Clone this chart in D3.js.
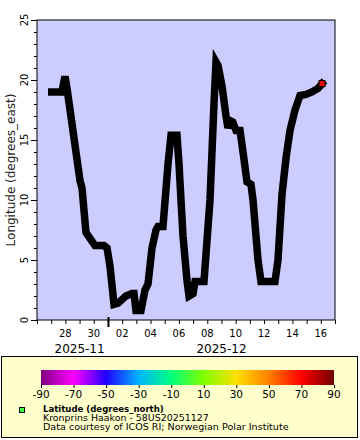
<!DOCTYPE html>
<html><head><meta charset="utf-8">
<script src="https://cdn.jsdelivr.net/npm/d3@7/dist/d3.min.js"></script>
<style>body{margin:0;background:#fff}svg{display:block}text{font-family:"DejaVu Sans",sans-serif}</style>
</head><body>
<script>
const times = ["2025-11-27T01:00","2025-11-27T18:00","2025-11-27T23:20","2025-11-28T02:45","2025-11-29T00:45","2025-11-29T04:05","2025-11-29T10:50","2025-11-29T17:40","2025-11-30T02:05","2025-11-30T17:20","2025-11-30T22:25","2025-12-01T03:25","2025-12-01T10:15","2025-12-01T17:00","2025-12-02T06:30","2025-12-02T16:40","2025-12-02T20:05","2025-12-02T23:25","2025-12-03T07:55","2025-12-03T14:40","2025-12-03T19:45","2025-12-04T02:30","2025-12-04T09:15","2025-12-04T12:40","2025-12-04T21:05","2025-12-05T05:35","2025-12-05T10:40","2025-12-05T20:45","2025-12-06T00:10","2025-12-06T06:55","2025-12-06T13:40","2025-12-06T17:05","2025-12-06T23:50","2025-12-07T03:15","2025-12-07T18:25","2025-12-08T04:35","2025-12-08T11:20","2025-12-08T14:45","2025-12-08T18:10","2025-12-09T00:55","2025-12-09T07:40","2025-12-09T11:00","2025-12-09T15:00","2025-12-09T19:00","2025-12-10T00:35","2025-12-10T07:20","2025-12-10T12:25","2025-12-10T19:10","2025-12-11T01:55","2025-12-11T05:20","2025-12-11T13:45","2025-12-11T18:50","2025-12-12T18:30","2025-12-12T23:35","2025-12-13T06:25","2025-12-13T13:10","2025-12-13T19:55","2025-12-14T04:20","2025-12-14T12:50","2025-12-14T23:00","2025-12-15T09:05","2025-12-15T19:15","2025-12-16T02:05"];
const longitude = [19.0,19.0,20.3,19.3,11.6,11.0,7.3,6.8,6.2,6.2,6.0,4.5,1.3,1.4,2.0,2.2,2.2,0.8,0.8,2.5,3.0,6.0,7.5,7.8,7.8,13.0,15.4,15.4,13.0,7.0,3.3,2.0,2.2,3.2,3.2,10.0,18.0,21.5,21.2,19.5,17.0,16.0,16.6,16.5,15.8,15.8,14.0,11.5,11.3,10.0,5.0,3.2,3.2,5.0,10.5,13.5,15.8,17.5,18.7,18.8,19.0,19.3,19.7];
const lastLatitude = 72;
const yTicks = [0,5,10,15,20,25];
const monthLabels = [{label:"2025-11", date:"2025-11-29T00:00"},{label:"2025-12", date:"2025-12-09T00:00"}];
const cbTicks = [-90,-70,-50,-30,-10,10,30,50,70,90];
const cbColors = ["#800080","#ff00ff","#2000ff","#00b4ff","#00ff80","#80ff00","#ffe000","#ff8000","#ff0000","#700000"];
const legendTitle = "Latitude (degrees_north)";
const legendLines = ["Kronprins Haakon - 58US20251127","Data courtesy of ICOS RI; Norwegian Polar Institute"];

const W=360,H=440;
const svg=d3.select("body").append("svg").attr("width",W).attr("height",H);
const parse=d3.utcParse("%Y-%m-%dT%H:%M");
const data=times.map((t,i)=>({t:parse(t),v:longitude[i]}));
const L=37,R=335,T=20,B=320;
const x=d3.scaleUtc().domain([parse("2025-11-26T00:00"),parse("2025-12-17T00:00")]).range([L,R]);
const y=d3.scaleLinear().domain([0,25]).range([B,T]);

svg.append("rect").attr("x",L).attr("y",T).attr("width",R-L).attr("height",B-T).attr("fill","#ccccff");

svg.append("clipPath").attr("id","c").append("rect").attr("x",L).attr("y",T).attr("width",R-L).attr("height",B-T);
svg.append("path").datum(data).attr("clip-path","url(#c)")
 .attr("d",d3.line().x(d=>x(d.t)).y(d=>y(d.v)))
 .attr("fill","none").attr("stroke","#000").attr("stroke-width",7.5).attr("stroke-linejoin","miter").attr("stroke-linecap","square");
const last=data[data.length-1];
const col=d3.scaleLinear().domain(cbTicks).range(cbColors);
svg.append("rect").attr("x",x(last.t)-3.5).attr("y",y(last.v)-3.5).attr("width",7).attr("height",7).attr("fill","#000");
svg.append("rect").attr("x",x(last.t)-2.5).attr("y",y(last.v)-2.5).attr("width",5).attr("height",5).attr("fill",col(lastLatitude));

svg.append("rect").attr("x",L).attr("y",T).attr("width",R-L).attr("height",B-T).attr("fill","none").attr("stroke","#000").attr("stroke-width",1);

// y axis
const ya=svg.append("g").attr("transform",`translate(${L},0)`);
ya.call(d3.axisLeft(y).tickValues(d3.range(0,26,1)).tickSize(3).tickFormat(""));
ya.selectAll(".domain").remove();
ya.selectAll(".tick line").filter(d=>d%5===0).attr("x2",-6);
yTicks.forEach(v=>{
  svg.append("text").attr("transform",`translate(${L-9},${y(v)}) rotate(-90)`).attr("text-anchor","middle").attr("font-size",10).text(v);
});
svg.append("text").attr("transform",`translate(15,${(T+B)/2}) rotate(-90)`).attr("text-anchor","middle").attr("font-size",12).attr("fill","#222").text("Longitude (degrees_east)");

// x axis
const xa=svg.append("g").attr("transform",`translate(0,${B})`);
xa.call(d3.axisBottom(x).ticks(d3.utcDay.every(1)).tickSize(4).tickFormat(""));
xa.selectAll(".domain").remove();
xa.selectAll(".tick line").filter(d=>d.getUTCDate()===1).attr("y1",-3).attr("y2",7).attr("stroke-width",2);
const evenDays=d3.utcDay.range(x.domain()[0],x.domain()[1]).filter(d=>d.getUTCDate()%2===0 && d>x.domain()[0]);
svg.selectAll("text.xt").data(evenDays).join("text").attr("class","xt")
 .attr("x",d=>x(d)).attr("y",B+17).attr("text-anchor","middle").attr("font-size",10).text(d3.utcFormat("%d"));
svg.selectAll("text.mt").data(monthLabels).join("text").attr("class","mt")
 .attr("x",d=>x(parse(d.date))).attr("y",B+33).attr("text-anchor","middle").attr("font-size",12).text(d=>d.label);

// legend
svg.append("rect").attr("x",1.5).attr("y",356.5).attr("width",356).attr("height",81).attr("fill","#ffffcc").attr("stroke","#000");
const cx=d3.scaleLinear().domain([-90,90]).range([41,334]);
const grad=svg.append("defs").append("linearGradient").attr("id","g");
cbTicks.forEach((t,i)=>grad.append("stop").attr("offset",(t+90)/180).attr("stop-color",cbColors[i]));
svg.append("rect").attr("x",41).attr("y",370).attr("width",293).attr("height",15).attr("fill","url(#g)");
const cba=svg.append("g").attr("transform","translate(0,385)");
cba.call(d3.axisBottom(cx).tickValues(cbTicks).tickSize(3).tickFormat(""));
cba.selectAll(".domain").remove();
cbTicks.forEach(v=>svg.append("text").attr("x",cx(v)).attr("y",398).attr("text-anchor","middle").attr("font-size",10.5).text(v));
svg.append("rect").attr("x",19.5).attr("y",407.5).attr("width",5).attr("height",5).attr("fill","#44ff44").attr("stroke","#000");
function fitText(s,yy,fs,target,bold){
  const t=svg.append("text").attr("x",0).attr("y",0).attr("font-size",fs).text(s);
  if(bold) t.attr("font-weight","bold");
  const w=t.node().getComputedTextLength();
  t.attr("transform",`translate(43,${yy}) scale(${target/w},1)`);
}
fitText(legendTitle,412.3,9,121,true);
fitText(legendLines[0],421,8.5,166,false);
fitText(legendLines[1],429.6,8.5,246,false);
</script>
</body></html>
